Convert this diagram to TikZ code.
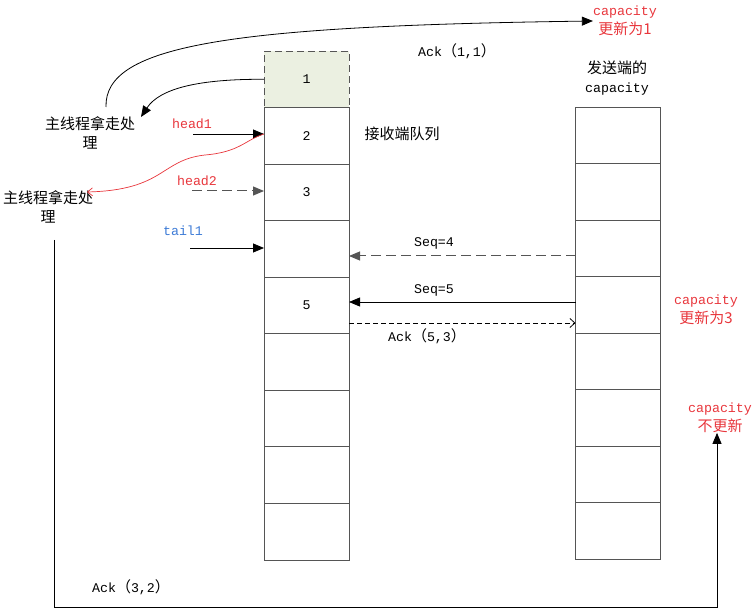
\documentclass[tikz,border=0pt]{standalone}
\usepackage{fontspec}
\setmainfont{Liberation Mono}
\newfontfamily\cjkf{Noto Sans CJK SC}
\newfontfamily\mono{Liberation Mono}
\newcommand{\cjk}{\fontsize{15}{18}\selectfont\cjkf}
\usetikzlibrary{arrows.meta}
\definecolor{myred}{HTML}{E8363C}
\definecolor{myblue}{HTML}{3D7BD6}
\definecolor{lgray}{HTML}{555555}
\definecolor{cellgreen}{HTML}{EBF0E1}
\begin{document}
\begin{tikzpicture}[x=1pt,y=-1pt,
  every node/.style={font=\fontsize{13.3}{18.5}\selectfont\mono, inner sep=0pt},
  cellbox/.style={draw=lgray, line width=0.9pt, minimum width=85pt, minimum height=56.56pt, outer sep=0pt},
  lbl/.style={align=center},
  redlbl/.style={align=center, text=myred},
  conn/.style={line width=0.8pt, -{Triangle[length=11pt,width=9pt]}},
  dconn/.style={line width=1pt, draw=lgray, dash pattern=on 10pt off 5pt, -{Triangle[length=11pt,width=9pt]}}]
\useasboundingbox (0,0) rectangle (754,609);
% receiver queue
\node[cellbox, fill=cellgreen, dash pattern=on 7pt off 4pt] (L1) at (306.5,79.28) {1};
\foreach \i in {2,...,9} {
  \node[cellbox] (L\i) at (306.5,{51+56.56*(\i-0.5)}) {};
}
\node at (L2) {2};
\node at (L3) {3};
\node at (L5) {5};
% sender capacity
\foreach \j in {1,...,8} {
  \node[cellbox] (R\j) at (618,{107+56.56*(\j-0.5)}) {};
}
% labels
\node[lbl] (m1) at (90,133) {{\cjk 主线程拿走处}\\{\cjk 理}};
\node[lbl] (m2) at (48,207) {{\cjk 主线程拿走处}\\{\cjk 理}};
\node[lbl] (rq) at (402,134) {\cjk 接收端队列};
\node[lbl] (snd) at (617,78) {{\cjk 发送端的}\\capacity};
\node[redlbl] (cap1) at (625,21) {capacity\\{\cjk 更新为1}};
\node[redlbl] (cap3) at (706,310) {capacity\\{\cjk 更新为3}};
\node[redlbl] (capn) at (720,418) {capacity\\{\cjk 不更新}};
\node[text=myred] (h1) at (192,124) {head1};
\node[text=myred] (h2) at (197,181) {head2};
\node[text=myblue] (t1) at (183,231) {tail1};
\node (ack11) at (457,51) {Ack{\cjk （}1,1{\cjk ）}};
\node (seq4) at (434,243) {Seq=4};
\node (seq5) at (434,290) {Seq=5};
\node (ack53) at (427,336) {Ack{\cjk （}5,3{\cjk ）}};
\node (ack32) at (131,587) {Ack{\cjk （}3,2{\cjk ）}};
% coordinates
\coordinate (h1s) at (193,134);
\coordinate (h2s) at (192,191);
\coordinate (t1s) at (190,248);
\coordinate (topstart) at (106,107);
\coordinate (botstart) at (54,240);
% connectors
\draw[conn] (topstart) .. controls (104,45) and (230,26) .. (cap1.west |- 0,21);
\draw[conn] (L1.west) .. controls (200,79) and (160,88) .. (141,117);
\draw[conn] (h1s) -- (h1s -| L2.west);
\draw[dconn] (h2s) -- (h2s -| L3.west);
\draw[conn] (t1s) -- (t1s -| L4.west);
\draw[myred, line width=0.7pt, -{Straight Barb[length=5pt,width=8pt]}] (h1s -| L2.west) .. controls (245,140) and (240,152) .. (205,155) .. controls (160,160) and (165,190) .. (87,192);
\draw[dconn] (R3.west |- 0,256) -- (L4.east |- 0,256);
\draw[conn] (R4.west |- 0,302) -- (L5.east |- 0,302);
\draw[line width=0.8pt, dash pattern=on 5pt off 3pt, -{Straight Barb[length=5pt,width=9pt]}] (L5.east |- 0,323) -- (R4.west |- 0,323);
\draw[conn] (botstart) -- (54,607) -- (717,607) -- (capn.south -| 717,0);
\end{tikzpicture}
\end{document}
